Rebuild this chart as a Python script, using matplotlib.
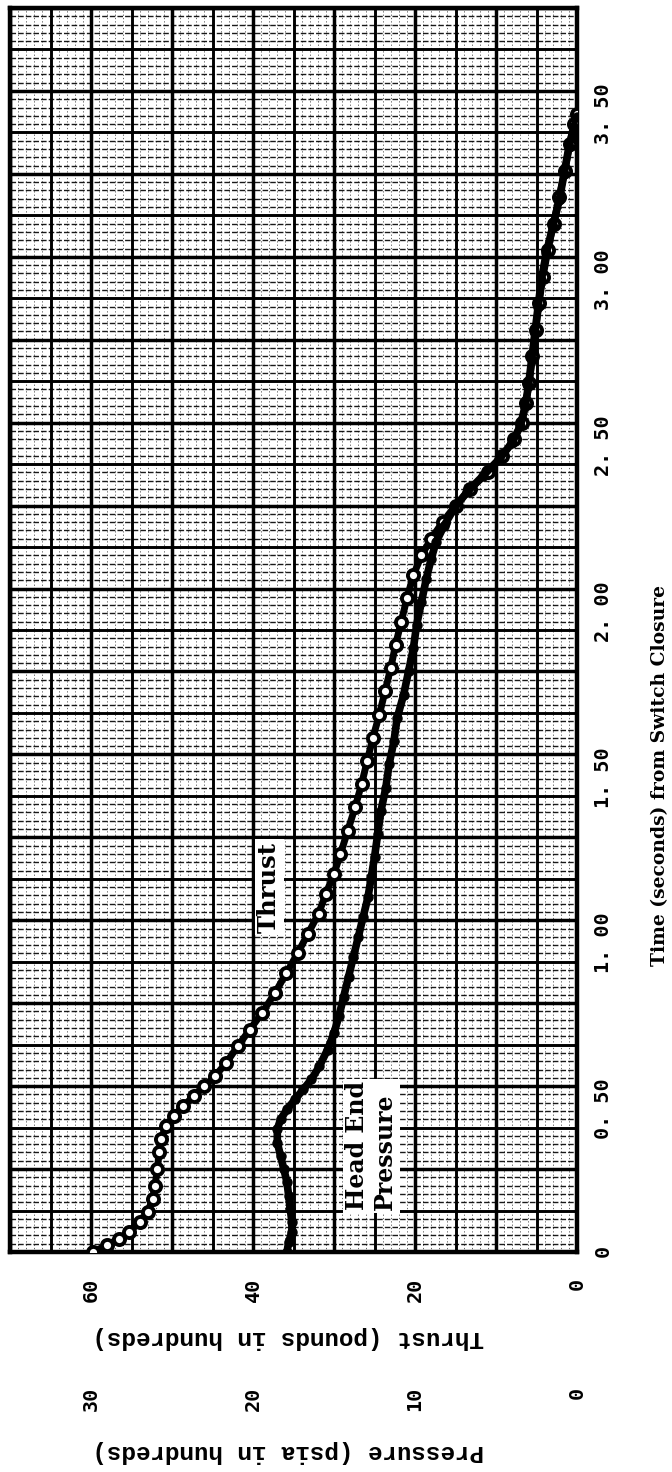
import numpy as np
import matplotlib
matplotlib.use("Agg")
import matplotlib.pyplot as plt

# ---------------- data ----------------
thrust_time = [0.00, 0.02, 0.04, 0.06, 0.09, 0.12, 0.16, 0.20, 0.25, 0.30, 0.34, 0.38,
               0.41, 0.44, 0.47, 0.50, 0.53, 0.57, 0.62, 0.67, 0.72, 0.78, 0.84, 0.90,
               0.96, 1.02, 1.08, 1.14, 1.20, 1.27, 1.34, 1.41, 1.48, 1.55, 1.62, 1.69,
               1.76, 1.83, 1.90, 1.97, 2.04, 2.10, 2.15, 2.20, 2.25, 2.30, 2.35, 2.40,
               2.45, 2.50, 2.56, 2.62, 2.70, 2.78, 2.86, 2.94, 3.02, 3.10, 3.18, 3.26,
               3.34, 3.40, 3.43]
thrust_vals = [59.8, 58.0, 56.6, 55.3, 54.0, 53.0, 52.4, 52.1, 51.8, 51.6, 51.4, 50.7,
               49.8, 48.6, 47.3, 46.0, 44.7, 43.3, 41.9, 40.4, 38.9, 37.3, 35.9, 34.5,
               33.2, 31.9, 31.0, 30.0, 29.2, 28.3, 27.4, 26.6, 25.9, 25.2, 24.4, 23.7,
               23.0, 22.4, 21.7, 21.0, 20.2, 19.2, 18.0, 16.6, 15.0, 13.2, 11.0, 9.2,
               7.8, 6.8, 6.3, 5.9, 5.5, 5.1, 4.7, 4.2, 3.6, 2.9, 2.2, 1.5,
               0.9, 0.4, 0.0]

pressure_time = [0.00, 0.03, 0.06, 0.09, 0.13, 0.17, 0.21, 0.25, 0.29, 0.33, 0.37, 0.40,
                 0.43, 0.46, 0.49, 0.52, 0.56, 0.61, 0.66, 0.71, 0.77, 0.83, 0.89, 0.95,
                 1.01, 1.07, 1.13, 1.19, 1.26, 1.33, 1.40, 1.47, 1.54, 1.61, 1.68, 1.75,
                 1.82, 1.89, 1.96, 2.03, 2.09, 2.14, 2.19, 2.24, 2.29, 2.34, 2.39, 2.44,
                 2.49, 2.55, 2.61, 2.69, 2.77, 2.85, 2.93, 3.01, 3.09, 3.17, 3.25, 3.33,
                 3.39, 3.42]
pressure_vals = [17.9, 17.8, 17.6, 17.6, 17.7, 17.8, 17.9, 18.1, 18.3, 18.5, 18.5, 18.3,
                 17.9, 17.4, 16.9, 16.4, 15.9, 15.4, 15.0, 14.7, 14.4, 14.1, 13.8, 13.5,
                 13.2, 12.9, 12.7, 12.5, 12.3, 12.1, 11.8, 11.6, 11.3, 11.1, 10.7, 10.4,
                 10.1, 9.9, 9.6, 9.3, 9.0, 8.7, 8.2, 7.6, 6.8, 5.8, 4.8, 4.0,
                 3.5, 3.2, 3.0, 2.8, 2.6, 2.4, 2.2, 1.9, 1.5, 1.1, 0.8, 0.5,
                 0.2, 0.0]

time_ticks = [0.0, 0.5, 1.0, 1.5, 2.0, 2.5, 3.0, 3.5]
time_tick_labels = ["0", "0. 50", "1. 00", "1. 50", "2. 00", "2. 50", "3. 00", "3. 50"]
thrust_ticks = [60, 40, 20, 0]
thrust_tick_labels = ["60", "40", "20", "0"]
pressure_ticks = [30, 20, 10, 0]
pressure_tick_labels = ["30", "20", "10", "0"]

time_label = "Time (seconds) from Switch Closure"
thrust_label = "Thrust (pounds in hundreds)"
pressure_label = "Pressure (psia in hundreds)"

# ---------------- figure ----------------
W, H = 672, 1472
fig = plt.figure(figsize=(W / 100, H / 100), dpi=100)
fig.patch.set_facecolor("white")

x0, x1, y0, y1 = 10, 577, 8, 1252
ax = fig.add_axes([x0 / W, 1 - y1 / H, (x1 - x0) / W, (y1 - y0) / H])
ax.set_xlim(70, 0)
ax.set_ylim(0, 3.75)

# graph-paper grid
for v in np.arange(0, 71, 1):
    if v % 5 == 0:
        ax.axvline(v, color="black", lw=2.1 if v % 10 else 2.5, zorder=2)
    else:
        ax.axvline(v, color="black", lw=0.6, ls=(0, (1.5, 2.5)), alpha=0.7, zorder=1)
for k in range(0, 151):
    h = k * 0.025
    if k % 5 == 0:
        ax.axhline(h, color="black", lw=2.1 if k % 10 else 2.5, zorder=2)
    else:
        ax.axhline(h, color="black", lw=1.0, ls=(0, (4, 1.5)), alpha=0.9, zorder=1)

for s in ax.spines.values():
    s.set_linewidth(3.2)
    s.set_zorder(3)

# thrust curve
ax.plot(thrust_vals, thrust_time, color="black", lw=5.0, marker="o", ms=8,
        mfc="white", mec="black", mew=2.8, zorder=6, solid_capstyle="round",
        solid_joinstyle="round")

# pressure curve on twin axis (pressure scale 0-35 across same width)
ax2 = ax.twiny()
ax2.set_xlim(35, 0)
ax2.set_ylim(0, 3.75)
ax2.plot(pressure_vals, pressure_time, color="black", lw=5.5, marker="o", ms=6.5,
         mfc="black", mec="black", zorder=6, solid_capstyle="round",
         solid_joinstyle="round")
for s in ax2.spines.values():
    s.set_visible(False)

tick_font = dict(family="DejaVu Sans Mono", weight="bold", size=14.5)

# thrust ticks at bottom
ax.set_xticks(thrust_ticks)
ax.set_xticklabels(thrust_tick_labels, **tick_font)
ax.tick_params(axis="x", length=0, pad=18.5, labelrotation=90)

# pressure ticks, lower
ax2.xaxis.set_ticks_position("bottom")
ax2.set_xticks(pressure_ticks)
ax2.set_xticklabels(pressure_tick_labels, **tick_font)
ax2.tick_params(axis="x", length=0, pad=97, labelrotation=90, top=False, labeltop=False,
                bottom=True, labelbottom=True)

# time ticks on right
ax.yaxis.tick_right()
ax.set_yticks(time_ticks)
ax.set_yticklabels(time_tick_labels, **tick_font)
ax.tick_params(axis="y", length=0, pad=12, labelrotation=90)
ax2.tick_params(axis="y", left=False, right=False, labelleft=False, labelright=False)

# axis titles
fig.text(660 / W, 1 - 775 / H, time_label, rotation=90, ha="center", va="center",
         family="DejaVu Serif", weight="bold", size=13.5)
fig.text(288 / W, 1 - 1337 / H, thrust_label, rotation=180, ha="center", va="center",
         family="Liberation Mono", weight="bold", size=17.5)
fig.text(288 / W, 1 - 1451 / H, pressure_label, rotation=180, ha="center", va="center",
         family="Liberation Mono", weight="bold", size=17.5)

# in-plot labels
ax.text(38.0, 1.10, "Thrust", rotation=90, ha="center", va="center",
        family="DejaVu Serif", weight="bold", size=17.5, zorder=5,
        bbox=dict(facecolor="white", edgecolor="none", pad=2))
ax.text(25.4, 0.32, "Head End\nPressure", rotation=90, ha="center", va="center",
        multialignment="left", linespacing=1.2,
        family="DejaVu Serif", weight="bold", size=17, zorder=5,
        bbox=dict(facecolor="white", edgecolor="none", pad=2))

fig.savefig("out.png", dpi=100, facecolor="white")
